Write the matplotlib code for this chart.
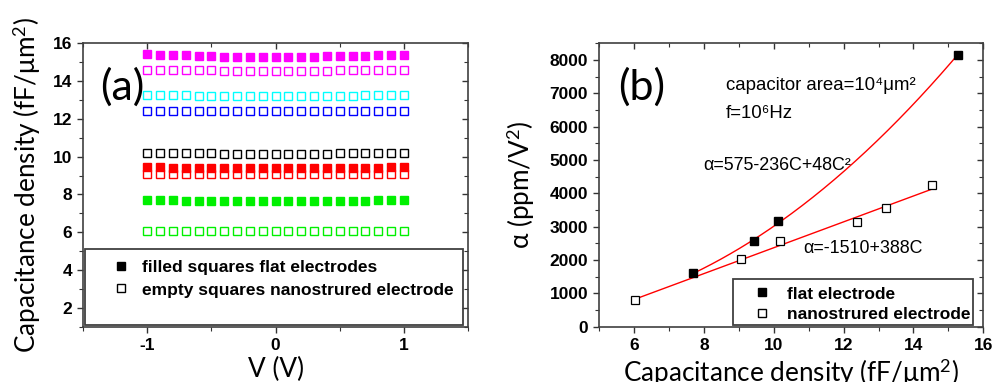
import numpy as np
import matplotlib
matplotlib.use('Agg')
import matplotlib.pyplot as plt
from matplotlib.lines import Line2D
from matplotlib.patches import Rectangle
from matplotlib.ticker import MultipleLocator

plt.rcParams['axes.unicode_minus'] = False
plt.rcParams['mathtext.fontset'] = 'custom'
plt.rcParams['mathtext.rm'] = 'Lato'
plt.rcParams['mathtext.it'] = 'Lato:italic'

# ---- panel (a) data: capacitance density vs bias ----
voltage = [-1.0, -0.9, -0.8, -0.7, -0.6, -0.5, -0.4, -0.3, -0.2, -0.1, 0.0,
           0.1, 0.2, 0.3, 0.4, 0.5, 0.6, 0.7, 0.8, 0.9, 1.0]

magenta_flat = [15.40, 15.38, 15.35, 15.35, 15.31, 15.31, 15.28, 15.26, 15.26, 15.26, 15.25,
                15.26, 15.26, 15.28, 15.29, 15.31, 15.31, 15.33, 15.35, 15.37, 15.38]
magenta_nano = [14.59, 14.58, 14.57, 14.56, 14.55, 14.55, 14.54, 14.54, 14.54, 14.54, 14.54,
                14.54, 14.54, 14.54, 14.54, 14.55, 14.55, 14.56, 14.57, 14.58, 14.59]
cyan_nano = [13.24, 13.24, 13.23, 13.23, 13.22, 13.22, 13.22, 13.22, 13.22, 13.22, 13.22,
             13.22, 13.22, 13.22, 13.22, 13.22, 13.22, 13.23, 13.23, 13.24, 13.24]
blue_nano = [12.43, 12.42, 12.41, 12.41, 12.40, 12.40, 12.39, 12.39, 12.39, 12.39, 12.39,
             12.39, 12.39, 12.39, 12.40, 12.40, 12.41, 12.41, 12.42, 12.43, 12.43]
black_nano = [10.19, 10.19, 10.18, 10.18, 10.17, 10.17, 10.16, 10.16, 10.16, 10.16, 10.16,
              10.16, 10.16, 10.16, 10.16, 10.17, 10.17, 10.18, 10.18, 10.19, 10.19]
red_flat = [9.43, 9.43, 9.42, 9.41, 9.41, 9.40, 9.40, 9.39, 9.39, 9.39, 9.39,
            9.39, 9.39, 9.39, 9.40, 9.40, 9.41, 9.41, 9.42, 9.43, 9.43]
red_nano = [9.10, 9.10, 9.10, 9.09, 9.09, 9.09, 9.09, 9.08, 9.08, 9.08, 9.08,
            9.08, 9.08, 9.08, 9.09, 9.09, 9.09, 9.09, 9.10, 9.10, 9.10]
green_flat = [7.69, 7.69, 7.69, 7.68, 7.68, 7.68, 7.68, 7.67, 7.67, 7.67, 7.67,
              7.67, 7.67, 7.67, 7.68, 7.68, 7.68, 7.68, 7.69, 7.69, 7.69]
green_nano = [6.07, 6.07, 6.07, 6.07, 6.07, 6.07, 6.06, 6.06, 6.06, 6.06, 6.06,
              6.06, 6.06, 6.06, 6.06, 6.07, 6.07, 6.07, 6.07, 6.07, 6.07]

# ---- panel (b) data: alpha vs capacitance density ----
flat_c = [7.68, 9.42, 10.12, 15.28]
flat_alpha = [1600, 2565, 3165, 8160]
nano_c = [6.03, 9.07, 10.17, 12.38, 13.21, 14.52]
nano_alpha = [800, 2040, 2575, 3145, 3550, 4240]

quad_coef = [575, -236, 48]   # alpha = a + bC + cC^2
lin_coef = [-1510, 388]       # alpha = a + bC

TICK_FONT = 'Liberation Sans'
BIG_FONT = ['Lato', 'DejaVu Sans']
TXT_FONT = ['Liberation Sans', 'DejaVu Sans']
TICK_SIZE = 12.5
LABEL_SIZE = 18.8

fig = plt.figure(figsize=(9.94, 3.82), dpi=100)
ax1 = fig.add_axes([83/994, 55/382, 385/994, 284/382])
ax2 = fig.add_axes([599.3/994, 55.3/382, 384/994, 284/382])


def style_axes(ax):
    for sp in ax.spines.values():
        sp.set_linewidth(1.2)
        sp.set_color('0.25')
    ax.tick_params(which='both', direction='out', color='0.2')
    ax.tick_params(which='major', length=4.5, width=1.0)
    ax.tick_params(which='minor', length=3, width=0.8)
    for lab in ax.get_xticklabels() + ax.get_yticklabels():
        lab.set_fontfamily(TICK_FONT)
        lab.set_fontweight('bold')
        lab.set_fontsize(TICK_SIZE)
    # top / right ticks point inward, no labels
    tw = ax.secondary_xaxis('top')
    rw = ax.secondary_yaxis('right')
    for sec in (tw, rw):
        sec.tick_params(which='both', direction='in', color='0.2')
        sec.tick_params(which='major', length=4.5, width=1.0)
        sec.tick_params(which='minor', length=3, width=0.8)
        sec.spines[:].set_visible(False)
    tw.set_xticks(ax.get_xticks())
    tw.xaxis.set_minor_locator(ax.xaxis.get_minor_locator())
    tw.tick_params(labeltop=False)
    rw.set_yticks(ax.get_yticks())
    rw.yaxis.set_minor_locator(ax.yaxis.get_minor_locator())
    rw.tick_params(labelright=False)


# panel (a)
ms = 5.5
series_a = [
    (magenta_flat, '#ff00ff', True),
    (magenta_nano, '#ff00ff', False),
    (cyan_nano, '#00ffff', False),
    (blue_nano, '#0000ff', False),
    (black_nano, 'black', False),
    (red_flat, '#ff0000', True),
    (red_nano, '#ff0000', False),
    (green_flat, '#00f000', True),
    (green_nano, '#00f000', False),
]
for vals, col, filled in series_a:
    ax1.plot(voltage, vals, linestyle='none', marker='s', markersize=ms,
             markerfacecolor=col if filled else 'none', markeredgecolor=col,
             markeredgewidth=1.0)

ax1.set_xlim(-1.5, 1.5)
ax1.set_ylim(1, 16)
ax1.xaxis.set_minor_locator(MultipleLocator(0.5))
ax1.yaxis.set_minor_locator(MultipleLocator(1))
ax1.set_yticks([2, 4, 6, 8, 10, 12, 14, 16])
ax1.set_xticks([-1, 0, 1])
style_axes(ax1)
ax1.set_xlabel('V (V)', family=BIG_FONT, fontsize=LABEL_SIZE, labelpad=3)
ax1.set_ylabel(r'Capacitance density (fF/μm$^2$)', family=BIG_FONT, fontsize=LABEL_SIZE)
ax1.yaxis.set_label_coords(-0.105, 0.5)
ax1.text(0.045, 0.845, '(a)', transform=ax1.transAxes, family=BIG_FONT,
         fontsize=31, ha='left', va='center')

ax1.add_patch(Rectangle((0.005, 0.007), 0.982, 0.268, transform=ax1.transAxes,
                        fill=False, edgecolor='0.25', linewidth=1.3, zorder=4))
h_a = [Line2D([], [], linestyle='none', marker='s', markersize=ms,
              markerfacecolor='black', markeredgecolor='black'),
       Line2D([], [], linestyle='none', marker='s', markersize=ms,
              markerfacecolor='none', markeredgecolor='black')]
leg1 = ax1.legend(h_a, ['filled squares flat electrodes',
                        'empty squares nanostrured electrode'],
                  loc='upper left', bbox_to_anchor=(0.075, 0.236), frameon=False,
                  borderpad=0, borderaxespad=0, handlelength=1.0, handletextpad=0.75,
                  labelspacing=0.42, prop={'family': TICK_FONT, 'weight': 'bold', 'size': 12.5})

# panel (b)
ax2.plot(flat_c, flat_alpha, linestyle='none', marker='s', markersize=ms,
         markerfacecolor='black', markeredgecolor='black', zorder=3)
ax2.plot(nano_c, nano_alpha, linestyle='none', marker='s', markersize=ms,
         markerfacecolor='white', markeredgecolor='black', markeredgewidth=0.9, zorder=3)

cq = np.linspace(min(flat_c), max(flat_c), 200)
ax2.plot(cq, quad_coef[0] + quad_coef[1] * cq + quad_coef[2] * cq ** 2,
         color='#ff0000', linewidth=1.0, zorder=2)
cl = np.linspace(min(nano_c), max(nano_c), 2)
ax2.plot(cl, lin_coef[0] + lin_coef[1] * cl, color='#ff0000', linewidth=1.0, zorder=2)

ax2.set_xlim(5, 16)
ax2.set_ylim(0, 8520)
ax2.xaxis.set_minor_locator(MultipleLocator(1))
ax2.yaxis.set_minor_locator(MultipleLocator(500))
ax2.set_xticks([6, 8, 10, 12, 14, 16])
ax2.set_yticks([0, 1000, 2000, 3000, 4000, 5000, 6000, 7000, 8000])
style_axes(ax2)
ax2.set_xlabel(r'Capacitance density (fF/μm$^2$)', family=BIG_FONT, fontsize=LABEL_SIZE, labelpad=3)
ax2.set_ylabel(r'α (ppm/V$^2$)', family=BIG_FONT, fontsize=LABEL_SIZE)
ax2.yaxis.set_label_coords(-0.162, 0.5)
ax2.text(0.05, 0.845, '(b)', transform=ax2.transAxes, family=BIG_FONT,
         fontsize=31, ha='left', va='center')
ax2.text(0.33, 0.85, 'capacitor area=10⁴μm²', transform=ax2.transAxes,
         family=TXT_FONT, fontsize=13.4, ha='left', va='center')
ax2.text(0.33, 0.752, 'f=10⁶Hz', transform=ax2.transAxes,
         family=TXT_FONT, fontsize=13.4, ha='left', va='center')
ax2.text(0.27, 0.566, 'α=575-236C+48C²', transform=ax2.transAxes,
         family=TXT_FONT, fontsize=12.9, ha='left', va='center')
ax2.text(0.53, 0.276, 'α=-1510+388C', transform=ax2.transAxes,
         family=TXT_FONT, fontsize=12.9, ha='left', va='center')

ax2.add_patch(Rectangle((0.348, 0.006), 0.625, 0.162, transform=ax2.transAxes,
                        fill=False, edgecolor='0.25', linewidth=1.3, zorder=4))
h_b = [Line2D([], [], linestyle='none', marker='s', markersize=ms,
              markerfacecolor='black', markeredgecolor='black'),
       Line2D([], [], linestyle='none', marker='s', markersize=ms,
              markerfacecolor='none', markeredgecolor='black')]
leg2 = ax2.legend(h_b, ['flat electrode', 'nanostrured electrode'],
                  loc='upper left', bbox_to_anchor=(0.400, 0.142), frameon=False,
                  borderpad=0, borderaxespad=0, handlelength=1.0, handletextpad=0.95,
                  labelspacing=0.3, prop={'family': TICK_FONT, 'weight': 'bold', 'size': 12.5})

fig.savefig('out.png', dpi=100)
